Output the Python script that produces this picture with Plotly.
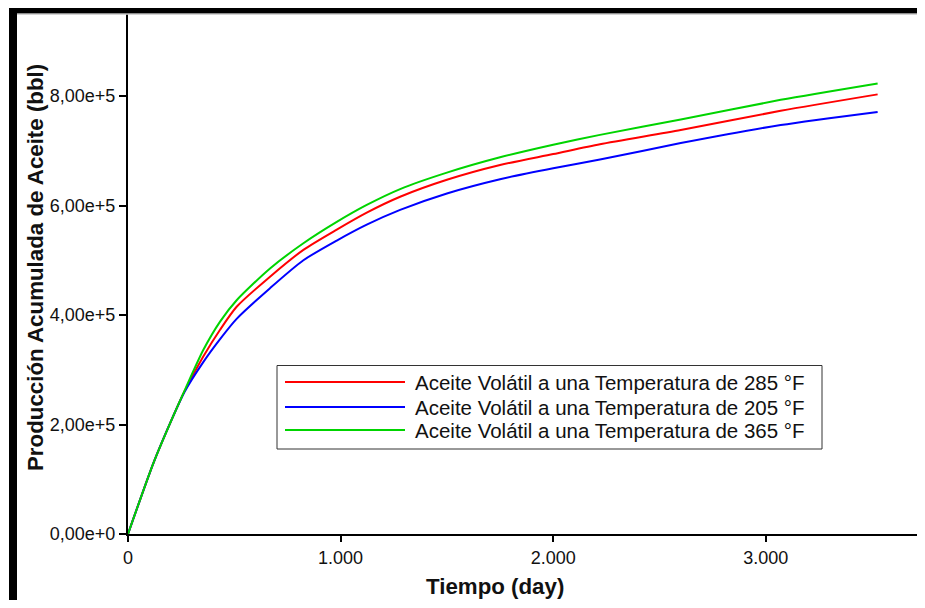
import plotly.graph_objects as go

# ---- data ----
days = [0, 120, 210, 265, 354, 433, 511, 668, 825, 982, 1123, 1280, 1500, 1750, 2000, 2220, 2600, 3070, 3526]
oil_285 = [0, 130000, 213000, 260000, 324000, 373000, 415000, 470000, 519000, 556000, 587000, 616000,
           647000, 674000, 694000, 712000, 738000, 773000, 803000]
oil_205 = [0, 130000, 213000, 259000, 314000, 356000, 393000, 449000, 500000, 536000, 565000, 592000,
           622000, 648000, 668000, 684000, 714000, 747000, 771000]
oil_365 = [0, 130000, 213000, 261000, 336000, 388000, 427000, 485000, 531000, 570000, 601000, 630000,
           660000, 688000, 711000, 729000, 757000, 793000, 823000]

series_names = [
    "Aceite Volátil a una Temperatura de 285 °F",
    "Aceite Volátil a una Temperatura de 205 °F",
    "Aceite Volátil a una Temperatura de 365 °F",
]
series_values = [oil_285, oil_205, oil_365]
series_colors = ["#ff0000", "#0000ff", "#00d400"]

x_tickvals = [0, 1000, 2000, 3000]
x_ticktext = ["0", "1.000", "2.000", "3.000"]
y_tickvals = [0, 200000, 400000, 600000, 800000]
y_ticktext = ["0,00e+0", "2,00e+5", "4,00e+5", "6,00e+5", "8,00e+5"]

x_title = "Tiempo (day)"
y_title = "Producción Acumulada de Aceite (bbl)"

# ---- layout geometry (page pixels; the page body adds an 8px offset) ----
OFF = 8
W, H = 925 - 2 * OFF, 608 - 2 * OFF
L, R, T, B = 128, 917, 14, 534   # plot area in page pixels
X_MAX = (R - L) / 0.2126          # keep the reference's day-per-pixel scale
Y_MAX = 949800


def px_x(px):
    return (px - L) / (R - L)


def px_y(py):
    return (B - py) / (B - T)


FONT = "Liberation Sans, Arial, sans-serif"
TXT = "#111111"

fig = go.Figure()
for name, vals, col in zip(series_names, series_values, series_colors):
    fig.add_trace(go.Scatter(x=days, y=vals, mode="lines", name=name,
                             line=dict(color=col, width=2, shape="spline", smoothing=0.7),
                             showlegend=False))

fig.update_layout(
    width=W, height=H,
    margin=dict(l=L - OFF, r=W - (R - OFF), t=T - OFF, b=H - (B - OFF), pad=0),
    paper_bgcolor="white", plot_bgcolor="white",
    font=dict(family=FONT, color=TXT),
    showlegend=False,
)
fig.update_xaxes(range=[0, X_MAX], tickvals=x_tickvals, ticktext=x_ticktext,
                 showgrid=False, zeroline=False, showline=True, linecolor="black", linewidth=2,
                 ticks="outside", ticklen=6, tickwidth=2, tickcolor="black",
                 tickfont=dict(size=18, family=FONT, color=TXT))
fig.update_yaxes(range=[0, Y_MAX], tickvals=y_tickvals, ticktext=y_ticktext,
                 showgrid=False, zeroline=False, showline=True, linecolor="black", linewidth=2,
                 ticks="outside", ticklen=7, tickwidth=2, tickcolor="black",
                 tickfont=dict(size=18, family=FONT, color=TXT))

shapes = []
# window frame
shapes.append(dict(type="rect", xref="paper", yref="paper", x0=px_x(9), x1=px_x(930),
                   y0=px_y(13.5), y1=px_y(4), fillcolor="black", line=dict(width=0), layer="above"))
shapes.append(dict(type="line", xref="paper", yref="paper", x0=px_x(17), x1=px_x(930),
                   y0=px_y(14.3), y1=px_y(14.3), line=dict(color="#c8c8c8", width=1), layer="above"))
shapes.append(dict(type="rect", xref="paper", yref="paper", x0=px_x(9), x1=px_x(17),
                   y0=px_y(612), y1=px_y(4), fillcolor="black", line=dict(width=0), layer="above"))

# legend box
shapes.append(dict(type="rect", xref="paper", yref="paper", x0=px_x(277), x1=px_x(822),
                   y0=px_y(449), y1=px_y(365.5), fillcolor="white",
                   line=dict(color="#333333", width=1), layer="above"))
annotations = []
row_y = [382, 407, 430]
for name, col, ry in zip(series_names, series_colors, row_y):
    shapes.append(dict(type="line", xref="paper", yref="paper", x0=px_x(285), x1=px_x(405),
                       y0=px_y(ry), y1=px_y(ry), line=dict(color=col, width=2), layer="above"))
    annotations.append(dict(xref="paper", yref="paper", x=px_x(413), y=px_y(ry + 0.5),
                            xanchor="left", yanchor="middle", text=name, showarrow=False,
                            font=dict(size=20.5, family=FONT, color=TXT)))

annotations.append(dict(xref="paper", yref="paper", x=px_x(495), y=px_y(586),
                        xanchor="center", yanchor="middle", text=f"<b>{x_title}</b>", showarrow=False,
                        font=dict(size=22.3, family=FONT, color=TXT)))
annotations.append(dict(xref="paper", yref="paper", x=px_x(35), y=px_y(268),
                        xanchor="center", yanchor="middle", text=f"<b>{y_title}</b>", showarrow=False,
                        textangle=-90, font=dict(size=22.3, family=FONT, color=TXT)))

fig.update_layout(shapes=shapes, annotations=annotations)
fig.write_html("out.html")
